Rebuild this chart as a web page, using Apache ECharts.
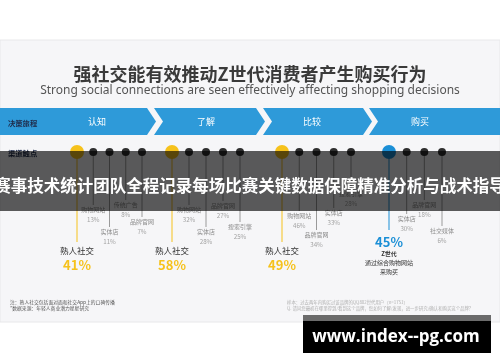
<!DOCTYPE html>
<html><head><meta charset="utf-8">
<script src="https://cdn.jsdelivr.net/npm/echarts@6/dist/echarts.min.js"></script>
<style>html,body{margin:0;padding:0;background:#fff}#c{width:500px;height:362px}</style>
</head><body><div id="c"></div>
<script>
// ---- data ----
const titleText = '强社交能有效推动Z世代消费者产生购买行为';
const subtitleText = 'Strong social connections are seen effectively affecting shopping decisions';
const stages = ['认知', '了解', '比较', '购买'];
const keyNames = ['熟人社交', '熟人社交', '熟人社交', 'Z世代'];
const keyValues = [41, 58, 49, 45];
const keyNote = ['通过综合购物网站', '来购买'];
const channels1 = ['购物网站', '实体店', '传统广告', '品牌官网'];
const values1 = [13, 11, 8, 7];
const channels2 = ['购物网站', '实体店', '品牌官网', '搜索引擎'];
const values2 = [32, 28, 27, 25];
const channels3 = ['购物网站', '品牌官网', '实体店', '搜索引擎'];
const values3 = [46, 34, 33, 28];
const channels4 = ['实体店', '品牌官网', '社交媒体'];
const values4 = [30, 18, 6];
const rowLabels = ['决策旅程', '渠道触点'];
const notesLeft = ['注：熟人社交包括面对面和社交App上的口碑传播', '*数据来源：年轻人商业潜力星星研究'];
const notesRight = ['样本：过去两年内购买过该品牌的QQ802世代用户（n=1751）', 'Q. 请问您最初在哪里得到/看到这个品牌，您如何了解/发现，进一步研究/确认和购买这个品牌？'];
const bannerText = '赛事技术统计团队全程记录每场比赛关键数据保障精准分析与战术指导';
const watermarkText = 'www.index--pg.com';

// ---- layout (not data) ----
const groups = [
  {names: channels1, values: values1},
  {names: channels2, values: values2},
  {names: channels3, values: values3},
  {names: channels4, values: values4}
];
const gridLeft = [77, 172, 282, 389];
const gridWidth = [65, 68, 69, 53];
const rowY = 152;
const labelDrop = [[58, 80, 53, 70], [58, 80, 54, 75], [64, 83, 61, 42], [67, 53, 79]];
const keyColors = ['#f6c21c', '#f6c21c', '#f6c21c', '#1b8fd6'];
const stageLeft = [0, 154, 263, 369];
const stageRight = [147, 256, 363, 500];
const stageLabelX = [97, 206, 312, 420];
const FONT = '"Noto Sans CJK SC", "Noto Sans", sans-serif';

function makeRender(g) {
  return function (params, api) {
    const i = api.value(0);
    const p0 = api.coord([i, 0]);
    const x = p0[0], y0 = p0[1];
    const ch = [];
    if (i === 0) {
      const c = keyColors[g];
      if (g < 3) {
        const yEnd = api.coord([i, 90])[1];
        ch.push({type: 'line', shape: {x1: x, y1: y0, x2: x, y2: yEnd}, style: {stroke: c, lineWidth: 1}});
        ch.push({type: 'circle', shape: {cx: x, cy: y0, r: 7}, style: {fill: c}});
        ch.push({type: 'text', style: {text: keyNames[g], x: x, y: api.coord([i, 99])[1], align: 'center', verticalAlign: 'middle', fontSize: 8.5, fontFamily: FONT, fill: '#333'}});
        ch.push({type: 'text', style: {text: api.value(1) + '%', x: x, y: api.coord([i, 113.5])[1], align: 'center', verticalAlign: 'middle', fontSize: 13, fontWeight: 'bold', fontFamily: FONT, fill: c}});
      } else {
        const yEnd = api.coord([i, 78])[1];
        ch.push({type: 'line', shape: {x1: x, y1: y0, x2: x, y2: yEnd}, style: {stroke: c, lineWidth: 1}});
        ch.push({type: 'circle', shape: {cx: x, cy: y0, r: 7}, style: {fill: c}});
        ch.push({type: 'text', style: {text: api.value(1) + '%', x: x, y: api.coord([i, 90])[1], align: 'center', verticalAlign: 'middle', fontSize: 13, fontWeight: 'bold', fontFamily: FONT, fill: c}});
        ch.push({type: 'text', style: {text: keyNames[g], x: x, y: api.coord([i, 102])[1], align: 'center', verticalAlign: 'middle', fontSize: 6, fontWeight: 'bold', fontFamily: FONT, fill: '#333'}});
        ch.push({type: 'text', style: {text: keyNote[0], x: x, y: api.coord([i, 111])[1], align: 'center', verticalAlign: 'middle', fontSize: 6, fontFamily: FONT, fill: '#333'}});
        ch.push({type: 'text', style: {text: keyNote[1], x: x, y: api.coord([i, 120])[1], align: 'center', verticalAlign: 'middle', fontSize: 6, fontFamily: FONT, fill: '#333'}});
      }
    } else {
      const drop = labelDrop[g][i - 1];
      const yName = api.coord([i, drop])[1];
      const yPct = api.coord([i, drop + 9.5])[1];
      ch.push({type: 'line', shape: {x1: x, y1: y0, x2: x, y2: yName - 5}, style: {stroke: '#9a9a9a', lineWidth: 1}});
      ch.push({type: 'circle', shape: {cx: x, cy: y0, r: 4}, style: {fill: '#2e2e2e'}});
      ch.push({type: 'text', style: {text: groups[g].names[i - 1], x: x, y: yName, align: 'center', verticalAlign: 'middle', fontSize: 6, fontFamily: FONT, fill: '#8c8c8c'}});
      ch.push({type: 'text', style: {text: api.value(1) + '%', x: x, y: yPct, align: 'center', verticalAlign: 'middle', fontSize: 6.2, fontFamily: FONT, fill: '#a3a3a3'}});
    }
    return {type: 'group', children: ch};
  };
}

const grids = [], xAxes = [], yAxes = [], series = [];
groups.forEach((grp, g) => {
  grids.push({left: gridLeft[g], width: gridWidth[g], top: rowY, height: 100});
  xAxes.push({type: 'category', gridIndex: g, data: [keyNames[g]].concat(grp.names), boundaryGap: false, show: false});
  yAxes.push({type: 'value', gridIndex: g, min: 0, max: 100, inverse: true, show: false});
  const data = [[0, keyValues[g]]].concat(grp.values.map((v, k) => [k + 1, v]));
  series.push({type: 'custom', xAxisIndex: g, yAxisIndex: g, data: data, encode: {x: 0}, renderItem: makeRender(g), silent: true, z: 5});
});

const graphics = [];
graphics.push({type: 'rect', shape: {x: 0, y: 40, width: 500, height: 282}, style: {fill: '#f6f6f8', stroke: '#e8e8ea', lineWidth: 1}, z: -10});
stages.forEach((s, k) => {
  const L = stageLeft[k], R = stageRight[k], t = 108, b = 135, m = 121.5, d = 9;
  const pts = [[L, t], [R, t]];
  if (k < stages.length - 1) { pts.push([R + d, m]); }
  pts.push([R, b], [L, b]);
  if (k > 0) { pts.push([L + d, m]); }
  graphics.push({type: 'polygon', shape: {points: pts}, style: {fill: '#2e9ad9'}, z: 1});
  graphics.push({type: 'text', x: stageLabelX[k], y: 122, style: {text: s, align: 'center', verticalAlign: 'middle', fontSize: 9, fontFamily: FONT, fill: '#fff'}, z: 2});
});
graphics.push({type: 'text', x: 8, y: 123, style: {text: rowLabels[0], verticalAlign: 'middle', fontSize: 7.3, fontWeight: 'bold', fontFamily: FONT, fill: '#1f2b4a'}, z: 2});
graphics.push({type: 'text', x: 8, y: 153, style: {text: rowLabels[1], verticalAlign: 'middle', fontSize: 7.3, fontWeight: 'bold', fontFamily: FONT, fill: '#1f2b4a'}, z: 2});
notesLeft.forEach((t, k) => graphics.push({type: 'text', x: 10, y: 302 + k * 6.5, style: {text: t, verticalAlign: 'middle', fontSize: 4.8, fontFamily: FONT, fill: '#555'}, z: 2}));
notesRight.forEach((t, k) => graphics.push({type: 'text', x: 287, y: 302 + k * 6.5, style: {text: t, verticalAlign: 'middle', fontSize: 4.4, fontFamily: FONT, fill: '#b0b0b0'}, z: 2}));
// overlays
graphics.push({type: 'rect', shape: {x: 0, y: 151, width: 500, height: 60}, style: {fill: 'rgba(0,0,0,0.64)'}, z: 100});
graphics.push({type: 'text', x: 250, y: 186, style: {text: bannerText, align: 'center', verticalAlign: 'middle', fontSize: 16.5, fontWeight: 'bold', fontFamily: FONT, fill: '#fff'}, z: 101});
graphics.push({type: 'rect', shape: {x: 303, y: 315, width: 188, height: 6}, style: {fill: '#6b6b6b'}, z: 100});
graphics.push({type: 'rect', shape: {x: 303, y: 321, width: 188, height: 32}, style: {fill: '#000'}, z: 100});
graphics.push({type: 'text', x: 396, y: 337, style: {text: watermarkText, align: 'center', verticalAlign: 'middle', fontSize: 17, fontWeight: 'bold', fontFamily: '"Open Sans", "Noto Sans", sans-serif', fill: '#fff'}, z: 101});

const chart = echarts.init(document.getElementById('c'), null, {renderer: 'canvas'});
chart.setOption({
  backgroundColor: '#ffffff',
  animation: false,
  title: [
    {text: titleText, left: 'center', top: 60, textStyle: {fontSize: 18, fontWeight: 'bold', color: '#3a3a3a', fontFamily: FONT}},
    {text: subtitleText, left: 'center', top: 80, textStyle: {fontSize: 12, fontWeight: 'normal', color: '#555', fontFamily: '"Noto Sans", sans-serif'}}
  ],
  grid: grids, xAxis: xAxes, yAxis: yAxes, series: series,
  graphic: graphics
});
</script></body></html>
